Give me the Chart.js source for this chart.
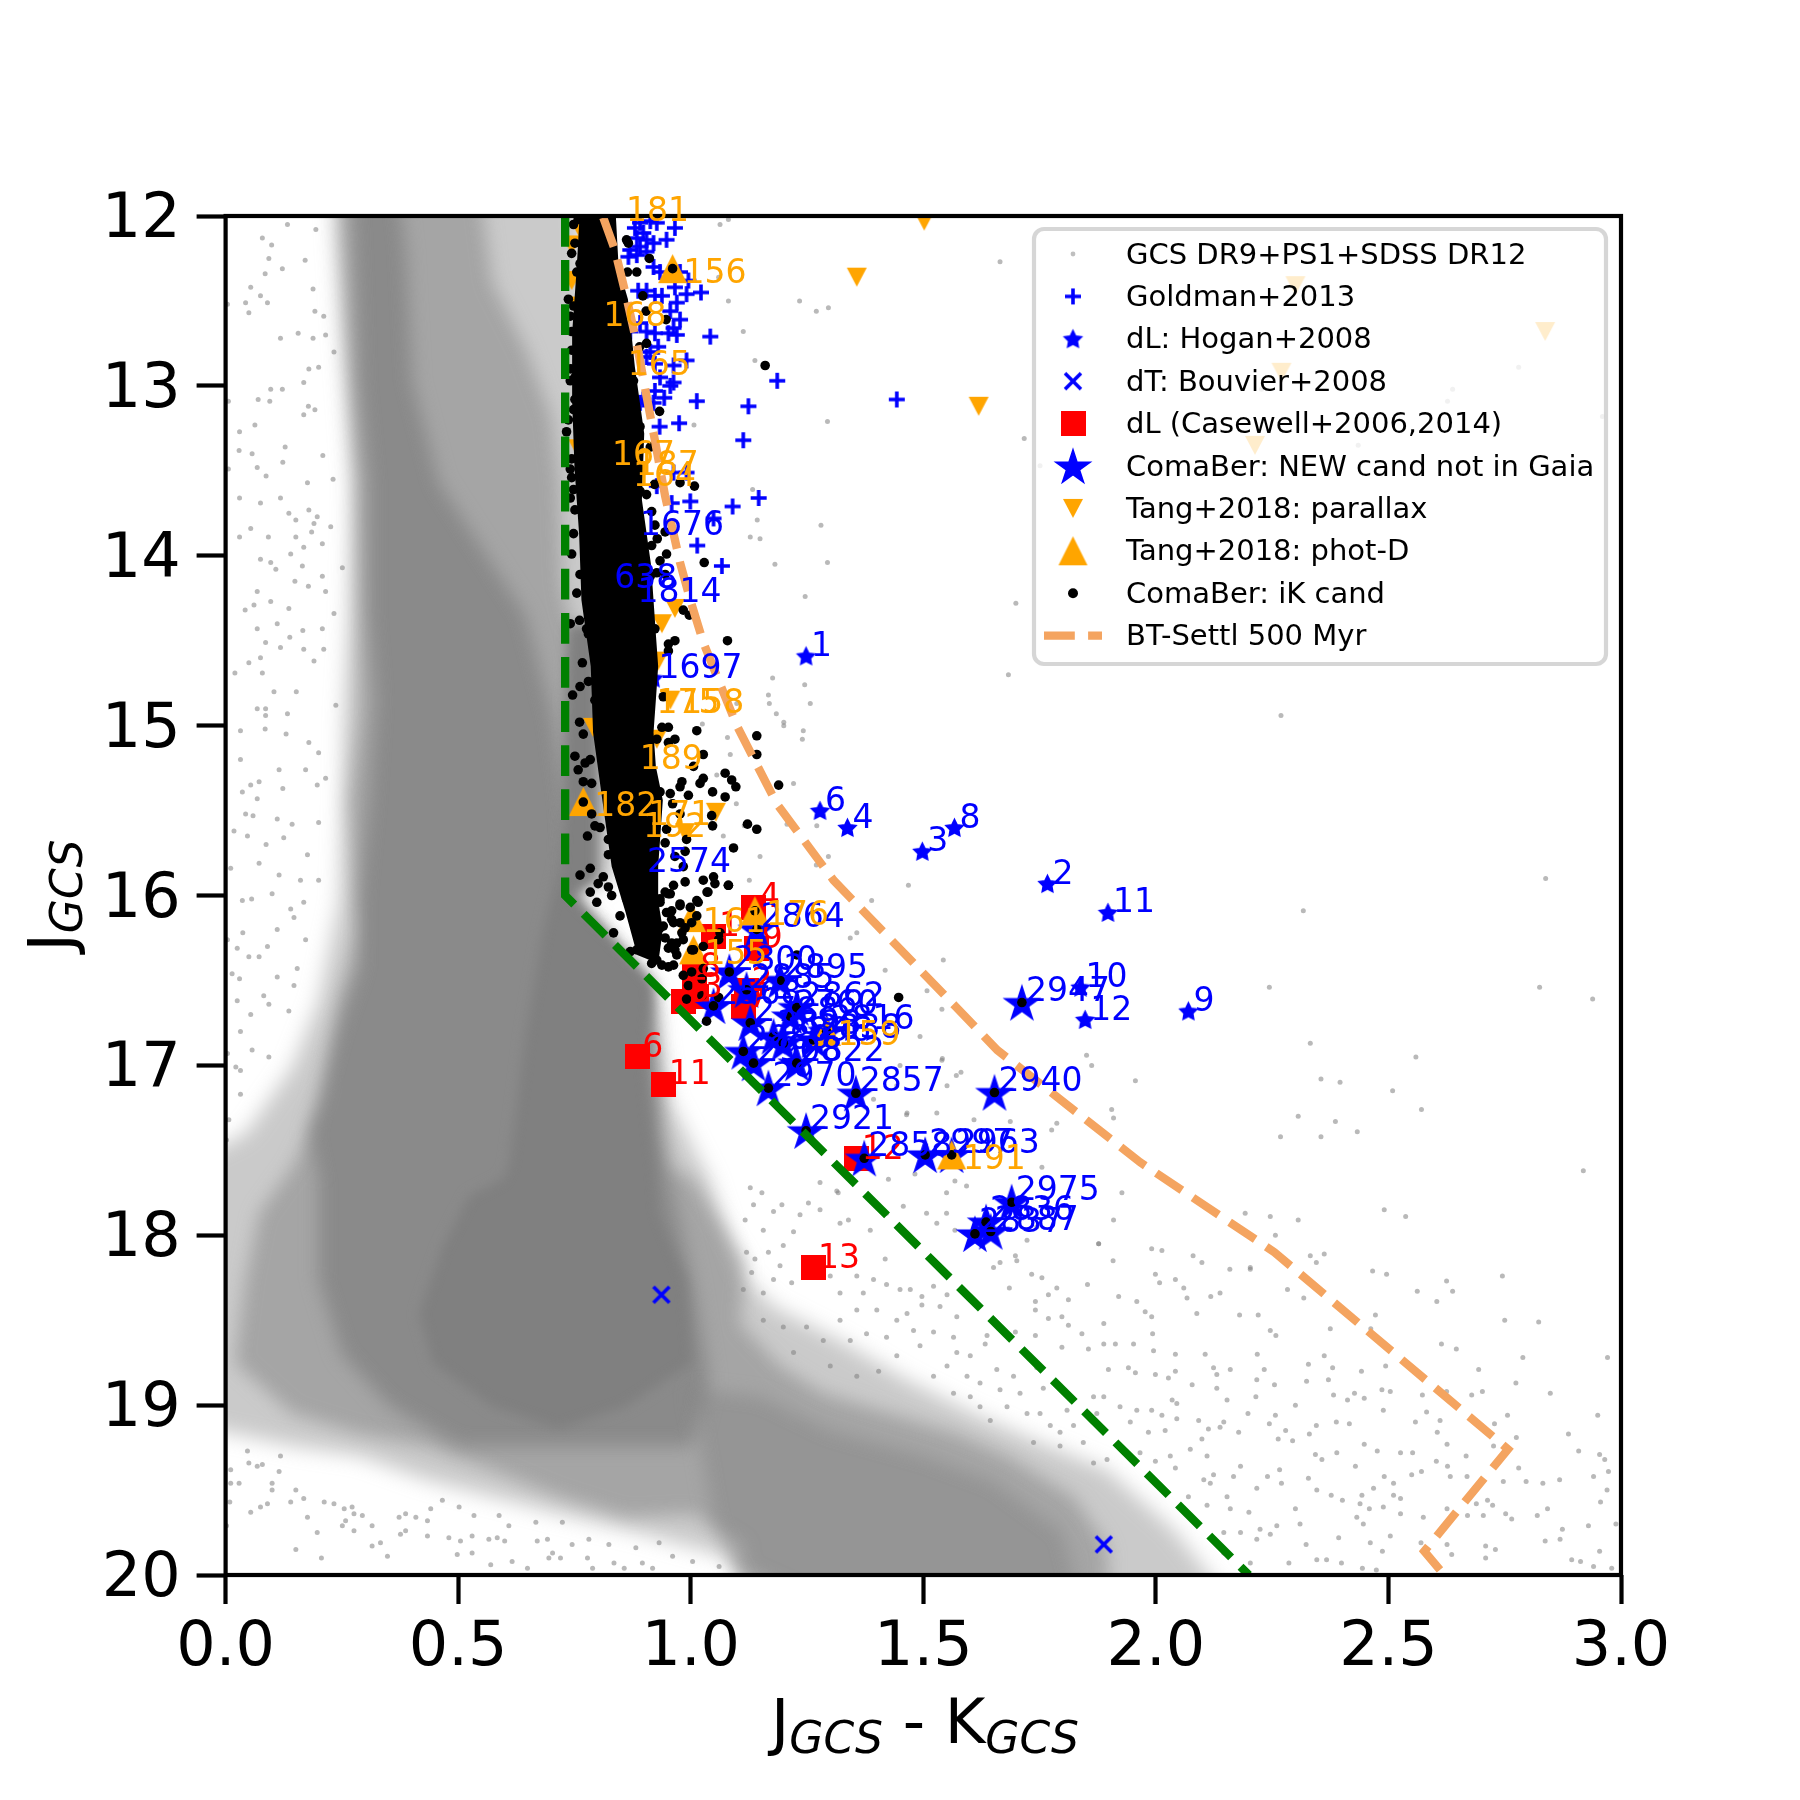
<!DOCTYPE html>
<html>
<head>
<meta charset="utf-8">
<title>Coma Ber colour-magnitude diagram</title>
<script src="https://cdn.jsdelivr.net/npm/chart.js@4"></script>
<style>
  body { margin: 0; background: #fff; }
  canvas { display: block; }
</style>
</head>
<body>
<canvas id="myChart" width="1800" height="1800"></canvas>
<script>
var xTicks = [0, 0.5, 1, 1.5, 2, 2.5, 3];
var yTicks = [12, 13, 14, 15, 16, 17, 18, 19, 20];

// GCS field population: density outlines
var fieldOuter = [[.23,11.8],[.237,12.2],[.251,12.78],[.272,13.57],[.265,14.35],[.254,14.94],[.251,15.44],[.244,16.03],[.2,16.62],[.143,17.01],[.043,17.4],[-.1,17.6],[-.1,19.1],[.143,19.24],[.287,19.3],[.43,19.44],[.573,19.54],[.717,19.64],[.86,19.73],[1.075,19.89],[1.2,20.3],[2.2,20.3],[2.038,19.73],[1.895,19.38],[1.751,19.22],[1.608,19.05],[1.464,18.85],[1.321,18.62],[1.178,18.42],[1.106,18.22],[1.04,17.67],[.953,17.2],[.932,16.81],[.925,16.58],[.745,16],[.84,15.9],[.84,14.5],[.8,13.5],[.78,13],[.76,11.8]];
var fieldMid = [[.244,11.8],[.28,13.57],[.287,14.35],[.287,14.94],[.265,15.44],[.287,16.22],[.244,16.62],[.215,17.2],[.143,17.6],[.072,17.87],[.043,18.26],[.02,18.75],[.143,19.05],[.287,19.17],[.43,19.24],[.573,19.38],[.717,19.54],[.86,19.66],[1.004,19.64],[1.118,19.83],[1.106,19.95],[1.393,20.3],[1.9,20.3],[1.895,19.83],[1.823,19.54],[1.68,19.3],[1.572,19.17],[1.429,19.05],[1.285,18.93],[1.192,18.77],[1.106,18.52],[1.118,18.16],[1.004,17.67],[.953,17.6],[.925,17.01],[.91,16.62],[.745,16],[.8,15.9],[.8,14.6],[.738,14.35],[.724,14.16],[.717,13.57],[.7,13.18],[.645,12.78],[.573,12.39],[.545,11.8]];
var fieldDense = [[.27,11.8],[.37,11.8],[.387,12.2],[.402,12.98],[.459,13.57],[.645,14.35],[.703,14.94],[.73,15.44],[.745,16],[.918,16.52],[.932,17.4],[1.004,18.26],[1.04,18.85],[1.004,19.24],[.502,19.24],[.35,19],[.25,18.7],[.2,18.26],[.2,17.67],[.179,17.4],[.237,16.81],[.287,16.42],[.287,16.03],[.308,15.44],[.323,14.85],[.308,14.35],[.308,13.57],[.287,12.98],[.28,12.4]];
var fieldTail = [[1,18.9],[1.15,18.95],[1.3,19.15],[1.5,19.3],[1.65,19.45],[1.8,19.75],[1.85,20.3],[1.15,20.3],[1.05,19.7]];
var fieldCore = [[.735,14.4],[.8,14.4],[.8,15.9],[.745,16],[.918,16.52],[.903,17.01],[.925,17.6],[.932,17.87],[.99,18.26],[1.004,18.75],[.86,19.01],[.717,19.14],[.574,19.01],[.445,18.75],[.416,18.46],[.466,18.07],[.523,17.77],[.595,17.67],[.609,17.59],[.645,16.81],[.681,16.22],[.717,15.83],[.724,15.44],[.73,14.85]];

var fieldStars = [[.133,12.05],[.079,12.13],[.099,12.17],[.093,12.25],[.122,12.31],[.085,12.34],[.171,12.26],[.194,12.08],[.054,12.42],[.188,12.43],[.075,12.47],[.09,12.51],[.043,12.51],[.004,12.52],[.05,12.57],[.192,12.56],[.211,12.59],[.156,12.69],[.118,12.72],[.215,12.7],[.188,12.72],[.233,12.8],[.179,12.9],[.2,12.89],[.168,12.98],[.097,13.02],[.122,13.02],[.07,13.08],[.095,13.09],[.006,13.09],[.178,13.12],[.192,13.14],[.168,13.17],[.063,13.23],[.03,13.27],[.128,13.36],[.029,13.38],[.057,13.4],[.209,13.41],[.068,13.48],[.006,13.49],[.087,13.53],[.123,13.45],[.231,13.55],[.176,13.57],[.03,13.66],[.075,13.69],[.118,13.66],[.136,13.75],[.179,13.73],[.197,13.77],[.151,13.79],[.19,13.81],[.054,13.84],[.092,13.89],[.03,13.89],[.151,13.89],[.185,13.86],[.226,13.83],[.208,13.93],[.168,13.95],[.075,14.02],[.097,14.04],[.14,13.99],[.165,14.06],[.108,14.08],[.251,14.07],[.208,14.12],[.215,14.21],[.149,14.15],[.178,14.18],[.068,14.21],[.097,14.27],[.061,14.29],[.042,14.32],[.136,14.31],[.111,14.4],[.068,14.43],[.166,14.44],[.208,14.43],[.138,14.48],[.086,14.51],[.118,14.54],[.233,14.34],[.168,14.55],[.211,14.55],[.075,14.6],[.05,14.63],[.02,14.69],[.19,14.62],[.079,14.69],[.104,14.8],[.152,14.8],[.068,14.9],[.086,14.9],[.237,14.88],
[.086,14.94],[.133,14.93],[.032,15.03],[.085,15.02],[.13,15.05],[.179,15.1],[.2,15.16],[.032,15.2],[.115,15.26],[.172,15.26],[.215,15.31],[.197,15.35],[.072,15.33],[.054,15.35],[.036,15.39],[.123,15.37],[.068,15.43],[.043,15.52],[.059,15.53],[.111,15.55],[.143,15.58],[.018,15.62],[.047,15.65],[.125,15.66],[.2,15.57],[.087,15.7],[.176,15.76],[.011,15.84],[.072,15.81],[.115,15.88],[.2,15.91],[.161,15.91],[.1,15.99],[.056,16.02],[.036,16.03],[.168,16.04],[.14,16.08],[.147,16.13],[.037,16.22],[.111,16.2],[.004,16.26],[.172,16.26],[.025,16.31],[.09,16.3],[.05,16.36],[.072,16.36],[.154,16.43],[.111,16.48],[.014,16.46],[.03,16.49],[.147,16.53],[.082,16.59],[.025,16.62],[.093,16.64],[.054,16.7],[.136,16.68],[.032,16.8],[.004,16.93],[.022,17.01],[.032,17.03],[.057,16.91],[.093,16.95],[.032,17.17],[.007,17.32],[.002,17.44],
[.047,19.27],[.05,19.34],[.068,19.36],[.079,19.35],[.011,19.38],[.118,19.3],[.115,19.39],[.1,19.46],[.011,19.46],[.029,19.46],[.1,19.5],[.151,19.5],[.168,19.55],[.14,19.57],[.09,19.58],[.075,19.6],[.054,19.63],[.212,19.57],[.233,19.58],[.255,19.61],[.272,19.6],[.276,19.64],[.294,19.65],[.176,19.66],[.258,19.68],[.251,19.71],[.276,19.74],[.197,19.75],[.315,19.71],[.373,19.66],[.387,19.64],[.409,19.66],[.434,19.68],[.376,19.76],[.387,19.74],[.434,19.77],[.315,19.83],[.333,19.81],[.151,19.85],[.206,19.9],[.348,19.89],[.48,19.78],[.505,19.8],[.53,19.77],[.566,19.79],[.584,19.78],[.6,19.8],[.498,19.88],[.53,19.87],[.57,19.94],[.616,19.92],[.649,19.96],[.67,19.8],[.692,19.79],[.703,19.87],[.695,19.9],[.72,19.9],[.778,19.9],[.789,19.96],[.835,19.93],[.896,19.93],[.857,19.96],[.918,19.96],[.009,19.57],[.002,19.71],[.441,19.61],[.466,19.56],[.502,19.6],[.534,19.65],[.588,19.65],[.609,19.71],[.667,19.69],[.724,19.69],[.781,19.79],[.824,19.82],[.882,19.84],[.932,19.81],[.745,19.82],[.961,19.89],[1.004,19.92],[1.061,19.95],
[1.128,17.72],[1.153,17.75],[1.178,17.86],[1.135,17.82],[1.196,17.82],[1.235,17.88],[1.253,17.81],[1.278,17.85],[1.314,17.74],[1.321,17.93],[1.221,17.98],[1.156,17.97],[1.117,17.91],[1.199,18.06],[1.167,18.1],[1.12,18.1],[1.138,18.14],[1.131,18.22],[1.192,18.18],[1.217,18.28],[1.156,18.34],[1.178,18.26],[1.113,18.32],[1.371,18.34],[1.321,18.34],[1.3,18.24],[1.357,18.24],[1.393,18.26],[1.418,18.14],[1.421,18.29],[1.357,18.44],[1.4,18.44],[1.321,18.5],[1.249,18.54],[1.199,18.54],[1.156,18.5],[1.45,18.32],[1.472,18.32],[1.497,18.36],[1.522,18.3],[1.465,18.46],[1.443,18.5],[1.497,18.41],[1.536,18.42],[1.551,18.35],[1.572,18.48],[1.522,18.57],[1.565,18.6],[1.479,18.56],[1.421,18.6],[1.378,18.58],[1.343,18.62],[1.285,18.62],[1.221,18.69],[1.637,18.59],[1.633,18.64],[1.601,18.71],[1.572,18.69],[1.493,18.65],[1.443,18.71],[1.404,18.8],[1.357,18.83],[1.3,18.77],[1.551,18.77],[1.522,18.83],[1.594,18.83],[1.658,18.79],[1.694,18.83],[1.744,18.78],[1.622,18.87],[1.665,18.91],[1.708,18.93],[1.758,18.9],[1.565,18.93],[1.601,18.95],[1.68,19.01],[1.723,19.05],[1.644,19.09],[1.622,19.01],[1.751,19.05],[1.773,19.12],[1.794,19.16],[1.823,19.12],[1.866,18.95],[1.888,18.95],[1.873,19.05],[1.809,19.03],[1.737,19.22],[1.794,19.24],[1.844,19.22],[1.895,19.32],[1.966,19.28],[1.866,19.34],
[1.698,18.12],[1.733,18.23],[1.755,18.25],[1.908,18.15],[1.877,18.05],[1.991,18.08],[2.013,18.09],[2.08,18.12],[2.099,18.16],[2.159,18.2],[2.203,18.19],[1.999,18.23],[2.008,18.28],[2.06,18.31],[2.042,18.26],[1.853,18.29],[1.685,18.31],[1.769,18.35],[1.787,18.31],[1.741,18.39],[1.812,18.38],[1.92,18.36],[1.959,18.39],[2.118,18.36],[2.138,18.34],[2.067,18.37],[1.741,18.44],[1.769,18.49],[1.798,18.48],[1.812,18.53],[1.888,18.52],[1.977,18.45],[1.991,18.48],[2.088,18.46],[2.18,18.47],[1.698,18.57],[1.741,18.59],[1.841,18.58],[1.993,18.58],[1.888,18.64],[1.855,18.67],[1.798,18.66],[1.913,18.64],[1.952,18.64],[1.995,18.68],[2.042,18.7],[2.106,18.7],[2.16,18.79],[2.124,18.78],[1.898,18.79],[1.941,18.78],[1.956,18.81],[1.999,18.82],[2.027,18.84],[2.042,18.8],[2.078,18.88],[2.131,18.82],[2.131,18.9],[2.035,18.97],[2.045,18.99],[2.153,18.97],[1.923,19.01],[1.959,19.03],[1.991,19.03],[2.013,19.06],[2.045,19.08],[2.092,19.09],[2.146,19.1],[2.138,19.13],[2.113,19.14],[2.02,19.15],[1.984,19.16],[1.945,19.1],[2.178,19.16],[2.099,19.2],[2.031,19.3],[2.11,19.3],[2.074,19.26],[1.999,19.33],[2.042,19.37],[2.124,19.41],[2.117,19.46],[2.182,19.36],[2.153,19.54],[2.217,19.49],[2.103,19.44],[2.167,19.42],[2.07,19.54],[2.11,19.59],[2.16,19.61],[2.2,19.63],[2.081,19.67],[2.146,19.75],[2.182,19.75],[2.217,19.79],[2.146,19.87],[2.203,19.93],
[2.269,14.94],[2.317,16.09],[2.244,16.54],[2.332,16.87],[2.838,15.9],[2.825,16.54],[2.939,16.61],[2.559,16.95],[2.509,17.15],[2.571,17.26],[2.355,17.08],[2.396,17.1],[2.306,17.3],[2.268,17.42],[2.355,17.42],[2.386,17.33],[2.433,17.39],[2.919,17.62],[2.491,17.85],[2.537,17.89],[2.192,17.87],[2.246,17.89],[2.306,17.91],[2.257,18],[2.332,18.12],[2.362,18.11],[2.345,18.16],[2.466,18.21],[2.496,18.23],[2.203,18.2],[2.283,18.32],[2.318,18.37],[2.562,18.33],[2.604,18.39],[2.625,18.27],[2.638,18.33],[2.745,18.24],[2.75,18.5],[2.823,18.51],[2.22,18.47],[2.472,18.47],[2.375,18.55],[2.462,18.55],[2.246,18.56],[2.258,18.59],[2.614,18.64],[2.646,18.67],[2.789,18.72],[2.971,18.72],[2.218,18.7],[2.362,18.71],[2.328,18.76],[2.38,18.78],[2.494,18.77],[2.694,18.79],[2.233,18.79],[2.442,18.8],[2.217,18.85],[2.255,18.88],[2.324,18.86],[2.371,18.85],[2.625,18.92],[2.774,18.87],[2.702,18.92],[2.848,18.93],[2.679,18.94],[2.573,18.94],[2.486,18.91],[2.504,18.92],[2.448,18.96],[2.427,18.93],[2.382,18.94],[2.412,18.97],[2.215,18.95],[2.3,19],[2.489,19.03],[2.582,19.04],[2.198,19.05],[2.257,19.06],[2.756,19.06],[2.95,19.06],[2.728,19.11],[2.7,19.12],[2.611,19.09],[2.558,19.1],[2.416,19.11],[2.388,19.1],[2.345,19.12],[2.244,19.11],[2.279,19.15],[2.33,19.17],[2.605,19.16],[2.775,19.19],[2.887,19.17],[2.626,19.23],[2.726,19.24],[2.263,19.2],[2.294,19.21],[2.448,19.23],[2.476,19.27],[2.526,19.28],[2.552,19.28],[2.343,19.29],[2.357,19.32],[2.389,19.28],[2.909,19.27],[2.954,19.29],[2.965,19.32],[2.603,19.33],[2.667,19.3],[2.627,19.36],[2.429,19.36],[2.266,19.38],[2.973,19.39],[2.78,19.37],[2.796,19.45],[2.747,19.45],[2.669,19.42],[2.633,19.42],[2.571,19.39],[2.55,19.41],[2.491,19.42],[2.511,19.46],[2.468,19.49],[2.328,19.43],[2.24,19.42],[2.27,19.46],[2.832,19.46],[2.868,19.44],[2.941,19.42],[2.97,19.5],[2.346,19.5],[2.377,19.53],[2.511,19.53],[2.443,19.53],[2.526,19.55],[2.956,19.57],[2.401,19.56],[2.439,19.58],[2.489,19.6],[2.626,19.61],[2.713,19.56],[2.689,19.58],[2.724,19.59],[2.842,19.61],[2.3,19.61],[2.459,19.61],[2.432,19.66],[2.526,19.64],[2.575,19.66],[2.67,19.65],[2.704,19.65],[2.752,19.64],[2.82,19.65],[2.765,19.67],[2.446,19.7],[2.93,19.71],[2.989,19.7],[2.874,19.73],[2.31,19.7],[2.224,19.73],[2.26,19.71],[2.504,19.77],[2.393,19.78],[2.461,19.81],[2.487,19.86],[2.57,19.81],[2.626,19.82],[2.837,19.8],[2.869,19.79],[2.709,19.83],[2.73,19.85],[2.636,19.88],[2.709,19.9],[2.894,19.91],[2.913,19.92],[2.954,19.86],[2.941,19.95],[2.98,19.96],[2.346,19.91],[2.367,19.91],[2.399,19.93],[2.444,19.96],[2.474,19.97],[2.286,19.93],[2.323,19.82],[2.246,19.76],
[1.063,12.05],[1.081,12.02],[1.06,12.36],[1.081,12.5],[1.234,12.5],[1.27,12.56],[1.296,12.54],[1.113,12.68],[1.138,12.85],[1.007,13.23],[1.294,13.21],[1.133,13.61],[1.143,13.79],[1.28,13.82],[1.128,13.89],[1.149,13.9],[1.181,14.05],[1.294,14.04],[1.246,14.24],[1.176,14.72],[1.245,14.76],[1.167,14.82],[1.169,14.87],[1.257,14.87],[1.184,14.93],[1.2,14.98],[1.2,15],[1.242,15.03],[1.24,15.08],[1.099,14.87],[1.025,14.99],[1.079,15.07],[1.085,15.17],[1.056,15.29],[1.098,15.46],[1.221,15.34],[1.207,15.58],[1.115,15.59],[1.07,15.65],[1.149,15.77],[1.296,15.77],[1.27,15.82],[1.271,15.59],[1.126,15.91],[1.468,15.94],[1.389,16.03],[1.357,16.22],[1.343,16.25],[1.543,16.38],[1.418,16.44],[1.508,16.56],[1.447,16.61],[1.54,16.67],[1.493,16.83],[1.54,16.97],[1.45,17],[1.443,17.12],[1.393,17.2],[1.465,17.28],[1.551,17.12],[1.541,16.96],[1.581,17.04],[1.571,17.06],[1.529,17.28],[1.464,17.29],[1.609,17.32],[1.687,17.33],[1.787,17.34],[1.776,17.38],[1.905,17.26],[1.909,17.31],[1.851,16.94],[1.862,17],[1.956,17.09],[1.755,17.6],[1.593,17.71],[1.568,17.68],[1.482,17.64],[1.425,17.67],[1.55,17.75],[1.927,17.75],[1.909,17.91],[1.877,18.05],[1.744,17.95],[1.723,18.03],[1.701,18.15],[1.665,18.16],[1.651,18.19],[1.568,17.97],[1.55,17.87],[1.529,17.93],[1.507,17.87],[1.457,17.83],[1.421,17.87],[1.386,17.97],[1.339,17.91],[1.317,17.75],[1.278,17.69],[1.717,13.31],[1.699,14.28],[1.683,14.7],[1.665,12.27],[2.227,13.02],[2.78,12.89],[2.638,13.02],[2.627,13.09],[2.96,13.18],[2.435,13.35],[1.751,13.47]];

var goldman = [[.966,12.07],[.948,12.14],[.927,12.04],[.913,12.03],[.891,12.04],[.88,12.07],[.898,12.1],[.884,12.13],[.905,12.14],[.92,12.16],[.87,12.2],[.891,12.18],[.905,12.21],[.884,12.23],[.866,12.24],[.92,12.3],[.934,12.33],[.977,12.33],[.995,12.38],[.991,12.46],[1.022,12.45],[.966,12.42],[.887,12.44],[.905,12.44],[.923,12.47],[.938,12.47],[.97,12.51],[.956,12.56],[.977,12.61],[.963,12.66],[.952,12.69],[.97,12.7],[1.042,12.71],[.923,12.69],[.905,12.68],[.891,12.63],[.87,12.68],[.93,12.77],[.913,12.8],[.905,12.83],[.991,12.85],[.963,12.88],[.923,12.87],[.934,12.95],[.963,12.98],[.956,13],[.923,13.03],[1.013,13.09],[.943,13.07],[.92,13.1],[.891,13.1],[.898,13.08],[1.124,13.12],[1.186,12.97],[.975,13.22],[.933,13.24],[1.113,13.32],[1.146,13.66],[1.09,13.71],[.999,13.68],[.959,13.69],[1.049,13.78],[1.014,13.94],[1.067,14.06],[.963,13.51],[.991,13.51],[.927,13.59],[1.443,13.08]];

var hogan = [[1.248,14.59],[1.278,15.5],[1.337,15.6],[1.498,15.74],[1.567,15.6],[1.767,15.93],[1.897,16.1],[1.838,16.54],[1.848,16.73],[2.07,16.68],[.88,13.88],[.825,14.19],[.875,14.27],[.92,14.72],[.895,15.86]];
var hoganNames = ['1','6','4','3','8','2','11','10','12','9','1676','638','1814','1697','2574'];

var bouvier = [[.937,18.35],[1.888,19.82]];

var casewell = [[1.263,18.19],[.942,17.11],[.885,16.95],[1.357,17.55],[1.136,16.07],[1.05,16.24],[1.142,16.31],[1.009,16.477],[.985,16.624],[1.013,16.595],[1.113,16.655],[1.12,16.56]];
var casewellNames = ['13','11','6','12','4','1','9','8','5','3','7','2'];

var newCand = [[1.142,16.2],[1.083,16.45],[1.192,16.5],[1.049,16.65],[1.12,16.555],[1.228,16.66],[1.292,16.8],[1.167,17.134],[1.355,17.164],[1.228,16.987],[1.113,16.918],[1.135,16.987],[1.128,16.75],[1.178,16.83],[1.199,16.87],[1.214,16.71],[1.264,16.85],[1.248,17.385],[1.653,17.16],[1.712,16.63],[1.373,17.547],[1.504,17.527],[1.561,17.527],[1.69,17.806],[1.635,17.923],[1.645,17.978],[1.611,17.992]];
var newCandNames = ['2864','2800','2895','2568','2885','2862','2816','2970','2857','2822','2889','2908','2788','2898','2896','2760','2838','2921','2940','2947','2858','2997','2963','2975','2836','2887','2837'];

var tangParallax = [[.837,11.95],[.789,12.57],[.841,12.86],[.807,13.39],[.858,13.45],[.852,13.51],[.903,14.85],[.956,14.85],[.867,15.18],[.885,15.51],[.874,15.58]];
var tangParallaxNames = ['181','168','165','167','187','164','175','158','189','171','192'];
var tangParallaxOther = [[1.502,12.03],[1.357,12.36],[1.619,13.12],[2.3,12.41],[2.837,12.68],[2.27,12.92],[2.213,13.35],[1.054,15.51],[.988,15.63],[.938,14.4],[.966,14.31],[.93,14.62],[.927,15.08],[.766,12.1],[.744,12.17],[.744,12.38],[.758,12.53],[.766,12.59],[.827,12.76],[.819,12.94],[.866,13.2],[.758,13.37],[.83,13.35],[.852,13.52],[.79,15.01]];

var tangPhot = [[.961,12.31],[1.561,17.527],[.769,15.447],[1.006,16.32],[1.002,16.13],[1.138,16.09],[1.292,16.8]];
var tangPhotNames = ['156','191','182','155','161','176','159'];

// iK candidates: the solid part of the sequence as an outline, stragglers one by one
var ikBand = [[.765,11.8],[.755,12.3],[.745,12.69],[.745,13.08],[.75,13.48],[.76,13.87],[.765,14.26],[.785,14.65],[.79,15.04],[.81,15.44],[.83,15.83],[.86,16.1],[.885,16.35],[.93,16.4],[.94,16.2],[.93,16.03],[.93,15.83],[.94,15.44],[.925,15.24],[.92,15.04],[.925,14.85],[.93,14.65],[.925,14.46],[.92,14.26],[.915,14.06],[.895,13.67],[.9,13.28],[.88,12.89],[.865,12.49],[.845,12.3],[.835,11.8]];
var ikStars = [[.748,12.05],[.758,12.02],[.751,12.16],[.744,12.22],[.762,12.28],[.755,12.33],[.737,12.49],[.748,12.53],[.741,12.59],[.744,12.68],[.758,12.73],[.744,12.79],[.742,12.9],[.751,12.95],[.741,12.97],[.751,13.08],[.766,13.03],[.748,13.14],[.737,13.2],[.733,13.27],[.744,13.43],[.741,13.49],[.744,13.54],[.748,13.61],[.741,13.66],[.751,13.73],[.748,13.87],[.744,13.99],[.762,14.11],[.755,14.22],
[.827,12.07],[.862,12.14],[.866,12.16],[.911,12.25],[.961,12.31],[.884,12.33],[.864,12.33],[.844,12.31],[.897,12.47],[.904,12.56],[.947,12.61],[.905,12.75],[.89,12.77],[.87,12.97],[.877,12.97],[.933,13.15],[.891,13.24],[.884,13.26],[.913,13.36],[1.16,12.88],[.922,13.58],[.977,13.57],[1.008,13.59],[.905,13.64],[.891,13.62],[.916,13.74],[.888,13.75],[.923,13.82],[.945,13.86],[.928,13.9],[.916,13.94],[.948,13.99],[.934,14.03],[1.029,14.04],[.927,14.1],[.913,14.12],[.945,14.11],
[1.079,14.5],[.997,14.35],[.984,14.32],[.966,14.5],[.952,14.52],[.952,14.56],[.923,14.43],[.913,14.46],[.941,14.83],[.952,15.01],[.938,15.01],[1.013,15.03],[1.142,15.06],[.966,15.08],[1.142,15.17],[1.027,15.17],[.952,15.1],[.927,15.08],[1.006,15.24],[1.074,15.28],[1.027,15.31],[1.02,15.34],[.981,15.33],[.977,15.36],[1.088,15.32],[1.097,15.36],[1.189,15.35],[.934,15.39],[.956,15.4],[1.047,15.39],[.995,15.41],[.961,15.46],[1.074,15.42],[.977,15.52],[1.045,15.53],[1.047,15.59],[1.122,15.58],[1.142,15.61],[.948,15.61],[.991,15.67],[.945,15.69],[1.092,15.72],[.988,15.74],[.966,15.77],[1.027,15.91],[1.049,15.89],[1.081,15.94],[1.052,15.93],[.988,15.92],[.963,15.94],[.945,15.98],[.956,15.99],[.984,15.83],[1.035,15.98],[1.013,16.03],[.977,16.05],[.948,16.1],[.934,16.04],[.959,16.14],[.941,16.18],[.988,16.19],[.984,16.26],[.959,16.3],[.927,16.24],[.905,16.28],[.884,16.32],[.87,16.33],[1.013,16.12],[1.027,16.3],[.927,16.38],[.905,16.24],[1.002,16.32],[.97,16.28],
[.741,14.4],[.761,14.38],[.776,14.43],[.78,14.46],[.767,14.63],[.78,14.74],[.746,14.82],[.762,14.77],[.794,14.85],[.761,14.98],[.769,15.05],[.751,15.18],[.773,15.22],[.784,15.2],[.758,15.26],[.769,15.33],[.787,15.34],[.769,15.45],[.787,15.52],[.794,15.59],[.805,15.6],[.778,15.65],[.823,15.67],[.823,15.76],[.784,15.84],[.762,15.88],[.812,15.89],[.801,15.93],[.823,15.95],[.784,15.98],[.83,16],[.798,16.04],[.862,16.02],[.848,16.12],[.834,16.22],
[1.081,15.94],[1.037,15.98],[1.016,16.04],[.999,16.07],[1.002,16.16],[.977,16.06],[.952,15.99],[.934,16.02],[.92,16.04],[.959,16.09],[.963,16.16],[.977,16.16],[.981,16.22],[.934,16.19],[.945,16.25],[.927,16.23],[.916,16.28],[.959,16.28],[1.006,16.32],[.966,16.32],[.952,16.31],[.97,16.35],[.938,16.41],[.952,16.42],[.916,16.4],[.984,16.47],[.963,16.41],[1.027,16.43],[1.002,16.45],[1.063,16.22],[1.06,16.26],[1.228,16.35],[1.447,16.6],[1.024,16.49],[.995,16.53],[1.024,16.59],[.991,16.61],[1.06,16.6],[1.034,16.74],[1.138,16.09]];

var btSettl = [[.812,12.01],[.837,12.2],[.862,12.48],[.884,12.75],[.905,13.06],[.923,13.32],[.945,13.65],[.977,14.04],[.999,14.26],[1.027,14.51],[1.099,15],[1.185,15.46],[1.307,15.91],[1.568,16.65],[1.659,16.91],[1.966,17.57],[2.255,18.1],[2.757,19.26],[2.577,19.86],[2.62,20]];
var cutLine = [[.73,12],[.73,16],[2.2,20]];

var legendNames = ['GCS DR9+PS1+SDSS DR12','Goldman+2013','dL: Hogan+2008','dT: Bouvier+2008','dL (Casewell+2006,2014)','ComaBer: NEW cand not in Gaia','Tang+2018: parallax','Tang+2018: phot-D','ComaBer: iK cand','BT-Settl 500 Myr'];

var BLUE = '#0000ff', RED = '#ff0000', ORANGE = '#ffa500', SANDY = '#f4a460', GREEN = '#008000';
var FONT = '"DejaVu Sans"';

function toPoints(pairs) {
    return pairs.map(function(p) { return {x: p[0], y: p[1]}; });
}

// chart.js has no filled five point star or tall triangle, so markers are small canvases
function marker(w, h, draw) {
    var c = document.createElement('canvas');
    c.width = w;
    c.height = h;
    var g = c.getContext('2d');
    g.translate(w / 2, h / 2);
    draw(g);
    return c;
}

function starMarker(r, inner, edge, color) {
    var side = Math.ceil(r * 2 + edge) + 4;
    return marker(side, side, function(g) {
        g.fillStyle = color;
        g.strokeStyle = color;
        g.lineWidth = edge;
        g.beginPath();
        for (var i = 0; i < 10; i++) {
            var a = -Math.PI / 2 + i * Math.PI / 5;
            var rr = i % 2 ? r * inner : r;
            g.lineTo(Math.cos(a) * rr, Math.sin(a) * rr + r * 0.1);
        }
        g.closePath();
        g.fill();
        if (edge) g.stroke();
    });
}

function triMarker(w, h, up, color) {
    return marker(w + 2, h + 2, function(g) {
        var s = up ? 1 : -1;
        g.fillStyle = color;
        g.beginPath();
        g.moveTo(0, -s * h / 2);
        g.lineTo(w / 2, s * h / 2);
        g.lineTo(-w / 2, s * h / 2);
        g.closePath();
        g.fill();
    });
}

var markers = {
    plus: marker(18, 18, function(g) {
        g.strokeStyle = BLUE; g.lineWidth = 3.6;
        g.beginPath(); g.moveTo(-8, 0); g.lineTo(8, 0); g.moveTo(0, -8); g.lineTo(0, 8); g.stroke();
    }),
    cross: marker(20, 20, function(g) {
        g.strokeStyle = BLUE; g.lineWidth = 3.6;
        g.beginPath(); g.moveTo(-8, -8); g.lineTo(8, 8); g.moveTo(-8, 8); g.lineTo(8, -8); g.stroke();
    }),
    hogan: starMarker(8.5, 0.5, 2, BLUE),
    square: marker(25, 25, function(g) {
        g.fillStyle = RED; g.fillRect(-12.5, -12.5, 25, 25);
    }),
    star: starMarker(18, 0.382, 1.5, BLUE),
    down: triMarker(20, 19, false, ORANGE),
    up: triMarker(29, 29, true, ORANGE)
};

function scatter(label, pairs, style, order, extra) {
    var ds = {
        label: label,
        data: toPoints(pairs),
        pointStyle: style.pointStyle || 'circle',
        pointRadius: style.radius || 6,
        pointBackgroundColor: style.color || '#000',
        pointBorderWidth: 0,
        showLine: false,
        order: order
    };
    return Object.assign(ds, extra || {});
}

function region(label, pairs, color, order, blur) {
    return {
        label: label,
        data: toPoints(pairs),
        showLine: true,
        fill: 'shape',
        backgroundColor: color,
        borderWidth: 0,
        pointRadius: 0,
        tension: 0,
        blur: blur,
        order: order
    };
}

function dashed(label, pairs, color, order) {
    return {
        label: label,
        data: toPoints(pairs),
        showLine: true,
        fill: false,
        borderColor: color,
        borderWidth: 8.33,
        borderDash: [30.8, 13.3],
        borderCapStyle: 'butt',
        pointRadius: 0,
        tension: 0,
        clip: 0,
        order: order
    };
}

// draws J_GCS style text: list of [text, isSubscript]
function mathText(ctx, parts, cx, baseline) {
    var big = '62px ' + FONT, small = 'italic 44px ' + FONT;
    var total = 0;
    parts.forEach(function(p) {
        ctx.font = p[1] ? small : big;
        total += ctx.measureText(p[0]).width;
    });
    var x = cx - total / 2;
    ctx.textAlign = 'left';
    ctx.textBaseline = 'alphabetic';
    parts.forEach(function(p) {
        ctx.font = p[1] ? small : big;
        ctx.fillText(p[0], x, baseline + (p[1] ? 10 : 0));
        x += ctx.measureText(p[0]).width;
    });
}

// the field outlines stand for a grainy cloud, so their edges are softened.
// The filler plugin paints before a local plugin's beforeDatasetDraw, so the
// filter for a dataset has to be set when the one drawn before it has finished.
function setBlur(chart, meta) {
    var blur = meta ? chart.data.datasets[meta.index].blur : 0;
    chart.ctx.filter = blur ? 'blur(' + blur + 'px)' : 'none';
}

var softEdges = {
    id: 'softEdges',
    beforeDatasetsDraw: function(chart) {
        var metas = chart.getSortedVisibleDatasetMetas();
        setBlur(chart, metas[metas.length - 1]);
    },
    afterDatasetDraw: function(chart, args) {
        var metas = chart.getSortedVisibleDatasetMetas();
        setBlur(chart, metas[metas.indexOf(args.meta) - 1]);
    },
    afterDatasetsDraw: function(chart) {
        chart.ctx.filter = 'none';
    }
};

var decorations = {
    id: 'decorations',
    afterDatasetsDraw: function(chart) {
        var ctx = chart.ctx, a = chart.chartArea;
        ctx.save();

        // all four spines
        ctx.strokeStyle = '#000';
        ctx.lineWidth = 4.2;
        ctx.strokeRect(a.left, a.top, a.right - a.left, a.bottom - a.top);

        // point names
        ctx.textAlign = 'left';
        ctx.textBaseline = 'alphabetic';
        ctx.font = '33px ' + FONT;
        chart.data.datasets.forEach(function(ds, i) {
            if (!ds.names) return;
            ctx.fillStyle = ds.nameColor;
            chart.getDatasetMeta(i).data.forEach(function(el, j) {
                ctx.fillText(ds.names[j], el.x + ds.nameDx, el.y + ds.nameDy);
            });
        });

        // axis titles
        ctx.fillStyle = '#000';
        mathText(ctx, [['J', false], ['GCS', true], [' - K', false], ['GCS', true]], 925, 1743);
        ctx.save();
        ctx.translate(50, 895.5);
        ctx.rotate(-Math.PI / 2);
        mathText(ctx, [['J', false], ['GCS', true]], 0, 22);
        ctx.restore();

        drawLegend(ctx);
        ctx.restore();
    }
};

function drawLegend(ctx) {
    var left = 1034, top = 229, w = 572, h = 435, r = 10;
    ctx.beginPath();
    ctx.moveTo(left + r, top);
    ctx.arcTo(left + w, top, left + w, top + h, r);
    ctx.arcTo(left + w, top + h, left, top + h, r);
    ctx.arcTo(left, top + h, left, top, r);
    ctx.arcTo(left, top, left + w, top, r);
    ctx.closePath();
    ctx.fillStyle = 'rgba(255,255,255,0.8)';
    ctx.fill();
    ctx.strokeStyle = 'rgba(204,204,204,0.8)';
    ctx.lineWidth = 4.2;
    ctx.stroke();

    var handles = [null, markers.plus, markers.hogan, markers.cross, markers.square, markers.star, markers.down, markers.up, null, null];
    var mx = 1073;
    legendNames.forEach(function(name, i) {
        var y = 254 + i * 42.4;
        ctx.fillStyle = '#000';
        ctx.font = '29px ' + FONT;
        ctx.textAlign = 'left';
        ctx.textBaseline = 'middle';
        ctx.fillText(name, 1126, y + 2);
        if (handles[i]) {
            var m = handles[i];
            ctx.drawImage(m, mx - m.width / 2, y - m.height / 2);
        } else if (i === 0 || i === 8) {
            ctx.fillStyle = i === 0 ? 'rgba(128,128,128,0.5)' : '#000';
            ctx.beginPath();
            ctx.arc(mx, y, i === 0 ? 2.4 : 5, 0, Math.PI * 2);
            ctx.fill();
        } else {
            ctx.strokeStyle = SANDY;
            ctx.lineWidth = 8.33;
            ctx.setLineDash([30.8, 13.3]);
            ctx.beginPath();
            ctx.moveTo(1044, y);
            ctx.lineTo(1102, y);
            ctx.stroke();
            ctx.setLineDash([]);
        }
    });
}

window.onload = function() {
    var ctx = document.getElementById('myChart').getContext('2d');

    new Chart(ctx, {
        type: 'scatter',
        data: {
            datasets: [
                region('field outer', fieldOuter, 'rgba(128,128,128,0.42)', 26, 10),
                region('field mid', fieldMid, 'rgba(128,128,128,0.5)', 25, 9),
                region('field dense', fieldDense, 'rgba(128,128,128,0.72)', 24, 9),
                region('field tail', fieldTail, 'rgba(128,128,128,0.45)', 23, 9),
                region('field core', fieldCore, 'rgb(128,128,128)', 21, 6),
                scatter(legendNames[0], fieldStars, {radius: 2.5, color: 'rgba(128,128,128,0.55)'}, 20),
                scatter(legendNames[1], goldman, {pointStyle: markers.plus}, 19),
                scatter(legendNames[2], hogan, {pointStyle: markers.hogan}, 18, {names: hoganNames, nameColor: BLUE, nameDx: 5, nameDy: 0}),
                scatter(legendNames[3], bouvier, {pointStyle: markers.cross}, 17),
                scatter(legendNames[4], casewell, {pointStyle: markers.square}, 16, {names: casewellNames, nameColor: RED, nameDx: 5, nameDy: 0}),
                scatter(legendNames[5], newCand, {pointStyle: markers.star}, 15, {names: newCandNames, nameColor: BLUE, nameDx: 4, nameDy: -2}),
                scatter(legendNames[6], tangParallax, {pointStyle: markers.down}, 14, {names: tangParallaxNames, nameColor: ORANGE, nameDx: 11, nameDy: 13}),
                scatter(legendNames[6] + ' rest', tangParallaxOther, {pointStyle: markers.down}, 13),
                scatter(legendNames[7], tangPhot, {pointStyle: markers.up}, 12, {names: tangPhotNames, nameColor: ORANGE, nameDx: 11, nameDy: 14}),
                region(legendNames[8] + ' band', ikBand, '#000', 11, 0),
                scatter(legendNames[8], ikStars, {radius: 4.8, color: '#000'}, 10),
                scatter(legendNames[8] + ' new', newCand, {radius: 4.8, color: '#000'}, 9),
                dashed(legendNames[9], btSettl, SANDY, 8),
                dashed('cut', cutLine, GREEN, 7)
            ]
        },
        options: {
            responsive: false,
            animation: false,
            devicePixelRatio: 1,
            layout: {padding: {top: 216, right: 179, left: 0, bottom: 0}},
            plugins: {
                legend: {display: false},
                tooltip: {enabled: false}
            },
            events: [],
            scales: {
                x: {
                    type: 'linear',
                    min: 0,
                    max: 3,
                    afterBuildTicks: function(s) { s.ticks = xTicks.map(function(v) { return {value: v}; }); },
                    afterFit: function(s) { s.height = 225; },
                    grid: {drawOnChartArea: false, tickLength: 29, tickColor: '#000', tickWidth: 4.2},
                    border: {display: false},
                    ticks: {
                        color: '#000',
                        font: {family: 'DejaVu Sans', size: 62},
                        padding: 8,
                        maxRotation: 0,
                        autoSkip: false,
                        callback: function(v) { return v.toFixed(1); }
                    }
                },
                y: {
                    type: 'linear',
                    min: 12,
                    max: 20,
                    reverse: true,
                    afterBuildTicks: function(s) { s.ticks = yTicks.map(function(v) { return {value: v}; }); },
                    afterFit: function(s) { s.width = 225.6; },
                    grid: {drawOnChartArea: false, tickLength: 29, tickColor: '#000', tickWidth: 4.2},
                    border: {display: false},
                    ticks: {
                        color: '#000',
                        font: {family: 'DejaVu Sans', size: 62},
                        padding: 16,
                        labelOffset: 5,
                        autoSkip: false
                    }
                }
            }
        },
        plugins: [softEdges, decorations]
    });
};
</script>
</body>
</html>
